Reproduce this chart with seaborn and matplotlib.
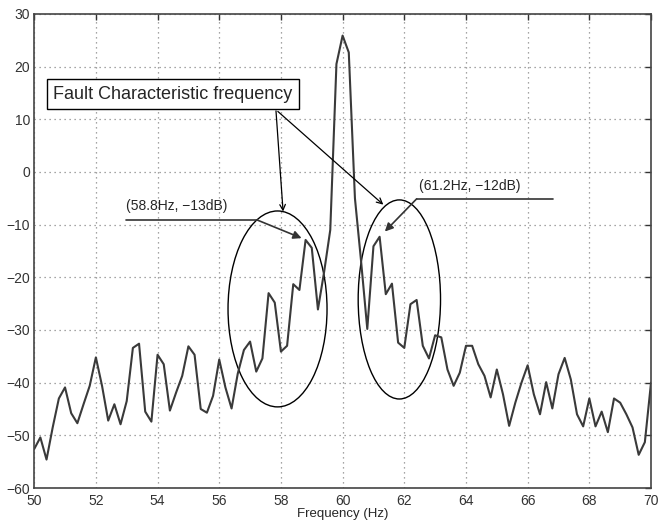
import numpy as np
import pandas as pd
import matplotlib
matplotlib.use("Agg")
import matplotlib.pyplot as plt
import seaborn as sns
from matplotlib.patches import Ellipse

freq = np.round(np.arange(50.0, 70.0001, 0.2), 1)
power_db = [
    -52.6, -50.4, -54.6, -48.5, -43.0, -40.9, -45.8, -47.7, -44.1, -40.6,
    -35.2, -40.6, -47.2, -44.1, -47.9, -43.5, -33.4, -32.6, -45.5, -47.4,
    -34.7, -36.5, -45.3, -41.9, -38.7, -33.1, -34.7, -45.0, -45.7, -42.5,
    -35.6, -40.9, -44.9, -38.3, -33.8, -32.2, -37.9, -35.4, -23.0, -24.8,
    -34.1, -33.0, -21.3, -22.4, -12.9, -14.4, -26.1, -19.0, -11.0, 20.5,
    25.9, 22.7, -5.0, -17.0, -29.8, -14.1, -12.3, -23.2, -21.2, -32.4,
    -33.4, -25.1, -24.3, -33.0, -35.4, -31.0, -31.4, -37.5, -40.6, -38.1,
    -33.0, -33.0, -36.5, -38.7, -42.8, -37.5, -42.2, -48.2, -43.8, -40.0,
    -36.7, -42.2, -46.0, -39.9, -44.9, -38.4, -35.3, -39.4, -46.0, -48.3,
    -43.0, -48.3, -45.5, -49.4, -43.0, -43.8, -46.0, -48.5, -53.7, -51.3,
    -40.0,
]
xticks = [50, 52, 54, 56, 58, 60, 62, 64, 66, 68, 70]
yticks = [-60, -50, -40, -30, -20, -10, 0, 10, 20, 30]
box_text = "Fault Characteristic frequency"
left_label = "(58.8Hz, \u221213dB)"
right_label = "(61.2Hz, \u221212dB)"
xlabel = "Frequency (Hz)"

df = pd.DataFrame({"freq": freq, "db": power_db})

sns.set_style("white")
plt.rcParams["font.family"] = ["Liberation Sans", "DejaVu Sans"]

fig = plt.figure(figsize=(6.6, 5.24), dpi=100)
ax = fig.add_axes([0.0518, 0.0687, 0.9346, 0.9046])

sns.lineplot(data=df, x="freq", y="db", ax=ax, color="#3a3a3a", linewidth=1.5)

ax.set_xlim(50, 70)
ax.set_ylim(-60, 30)
ax.set_xticks(xticks)
ax.set_yticks(yticks)
ax.set_xticklabels([str(t) for t in xticks], fontsize=10)
ax.set_yticklabels([("\u2212" + str(-t)) if t < 0 else str(t) for t in yticks], fontsize=10)
ax.set_xlabel(xlabel, fontsize=9.5, labelpad=0)
ax.set_ylabel("")
ax.grid(True, color="#888888", linestyle=(0, (1, 3)), linewidth=0.9)
ax.tick_params(axis="both", direction="in", length=4, width=1, top=True, right=True,
               colors="#333333")
ax.tick_params(axis="x", pad=4)
ax.tick_params(axis="y", pad=3)
for s in ax.spines.values():
    s.set_visible(True)
    s.set_color("#444444")
    s.set_linewidth(1.2)

# ellipses
ax.add_patch(Ellipse((57.89, -26.0), 3.21, 37.2, fill=False, edgecolor="black", linewidth=1.0))
ax.add_patch(Ellipse((61.84, -24.2), 2.67, 37.8, fill=False, edgecolor="black", linewidth=1.0))

# box text
ax.text(50.62, 14.8, box_text, fontsize=13, va="center", ha="left",
        bbox=dict(boxstyle="square,pad=0.35", facecolor="white", edgecolor="black", linewidth=1.0))

# fault arrows
ax.annotate("", xy=(58.07, -7.5), xytext=(57.84, 11.6),
            arrowprops=dict(arrowstyle="->", color="black", lw=0.9, shrinkA=0, shrinkB=0))
ax.annotate("", xy=(61.32, -6.2), xytext=(57.9, 11.5),
            arrowprops=dict(arrowstyle="->", color="black", lw=0.9, shrinkA=0, shrinkB=0))

# value annotations
ax.plot([52.98, 57.22], [-9.09, -9.09], color="#333333", lw=1.2)
ax.annotate("", xy=(58.67, -12.56), xytext=(57.22, -9.09),
            arrowprops=dict(arrowstyle="-|>", color="#333333", lw=1.2,
                            mutation_scale=12, shrinkA=0, shrinkB=0))
ax.text(54.63, -6.43, left_label, fontsize=10, ha="center", va="center")

ax.plot([62.40, 66.83], [-5.1, -5.1], color="#333333", lw=1.2)
ax.annotate("", xy=(61.37, -11.3), xytext=(62.40, -5.1),
            arrowprops=dict(arrowstyle="-|>", color="#333333", lw=1.2,
                            mutation_scale=12, shrinkA=0, shrinkB=0))
ax.text(64.13, -2.64, right_label, fontsize=10, ha="center", va="center")

fig.savefig("out.png", dpi=100)
